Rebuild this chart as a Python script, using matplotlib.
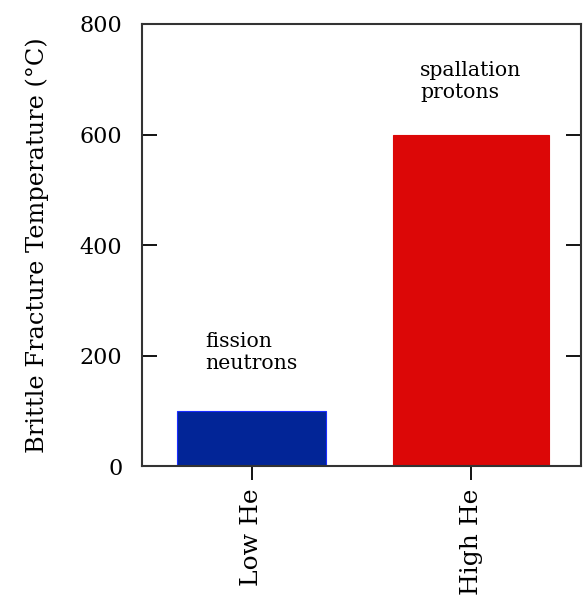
import matplotlib.pyplot as plt

categories = ['Low He', 'High He']
temperatures = [100, 600]
notes = ['fission\nneutrons', 'spallation\nprotons']

plt.rcParams['font.family'] = ['DejaVu Serif']

fig = plt.figure(figsize=(5.84, 6.0), dpi=100)
ax = fig.add_axes([0.243, 0.223, 0.752, 0.737])

x = range(len(categories))
ax.bar(x, temperatures, width=[0.68, 0.71],
       color=['#022597', '#dc0707'], edgecolor=['#1a2cff', '#dc0707'], linewidth=0.8)

ax.text(-0.21, 243, notes[0], fontsize=14.7, va='top', linespacing=1.2)
ax.text(0.767, 733, notes[1], fontsize=14.7, va='top', linespacing=1.2)

ax.set_xlim(-0.5, 1.5)
ax.set_ylim(0, 800)
ax.set_yticks([0, 200, 400, 600, 800])
ax.set_xticks(list(x))
ax.set_xticklabels(categories, rotation=90, fontsize=18)
ax.set_ylabel('Brittle Fracture Temperature (°C)', fontsize=17.3, labelpad=22)

ax.tick_params(axis='y', direction='in', left=True, right=True, length=11, width=1.3,
               labelsize=16, pad=14)
ax.tick_params(axis='x', direction='out', length=10, width=1.3, pad=6)
for s in ax.spines.values():
    s.set_linewidth(1.5)
    s.set_color('#333333')

fig.savefig('out.png', dpi=100)
